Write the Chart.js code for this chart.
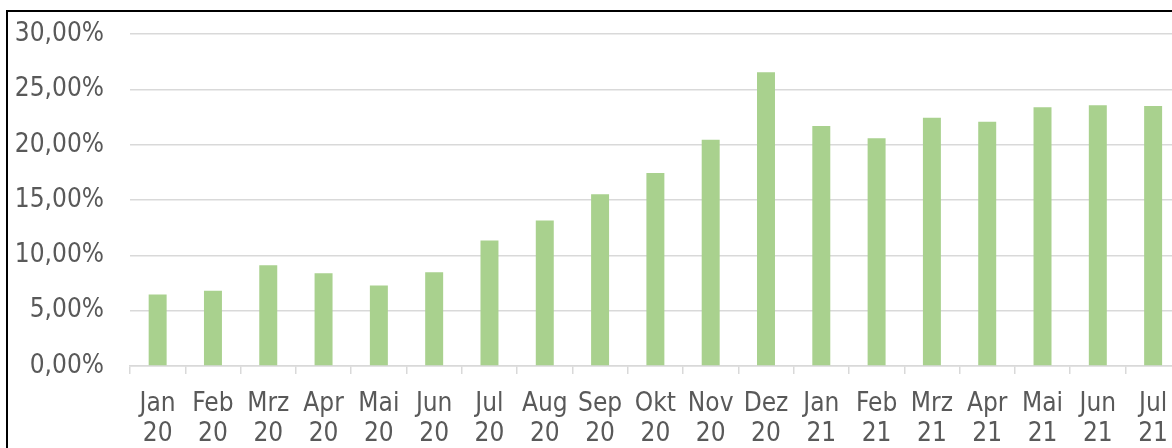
<!DOCTYPE html>
<html>
<head>
<meta charset="utf-8">
<script src="https://cdn.jsdelivr.net/npm/chart.js@4/dist/chart.umd.min.js"></script>
<style>
    html, body {
        margin: 0;
        padding: 0;
        background: #ffffff;
        overflow: hidden;
        width: 1172px;
        height: 448px;
    }
    .chart-box {
        position: absolute;
        left: 6px;
        top: 10px;
        border: 2px solid #000000;
        width: 1190px;
        height: 460px;
        background: #ffffff;
    }
    /* canvas is pulled up a bit so the plot area starts right under the frame */
    .chart-wrap {
        position: absolute;
        left: 0;
        top: -19px;
        width: 1175px;
        height: 459px;
    }
</style>
</head>
<body>
<div class="chart-box">
    <div class="chart-wrap"><canvas id="shareChart"></canvas></div>
</div>
<script>
const months = ['Jan', 'Feb', 'Mrz', 'Apr', 'Mai', 'Jun', 'Jul', 'Aug', 'Sep', 'Okt', 'Nov', 'Dez',
    'Jan', 'Feb', 'Mrz', 'Apr', 'Mai', 'Jun', 'Jul'];
const years = ['20', '20', '20', '20', '20', '20', '20', '20', '20', '20', '20', '20',
    '21', '21', '21', '21', '21', '21', '21'];
const shares = [6.47, 6.80, 9.12, 8.39, 7.28, 8.48, 11.34, 13.15, 15.52, 17.45, 20.46, 26.56,
    21.69, 20.60, 22.44, 22.08, 23.40, 23.58, 23.50];
const yTicks = [0, 5, 10, 15, 20, 25, 30];

const labelFont = { family: '"DejaVu Sans Condensed", "DejaVu Sans", sans-serif', size: 26, lineHeight: 1.17 };
const textColor = '#595959';
const gridColor = '#d9d9d9';

const labels = months.map((m, i) => [m, years[i]]);

new Chart(document.getElementById('shareChart'), {
    type: 'bar',
    data: {
        labels: labels,
        datasets: [{
            data: shares,
            backgroundColor: '#a9d18e',
            borderWidth: 0,
            categoryPercentage: 1,
            barPercentage: 0.325
        }]
    },
    options: {
        responsive: true,
        maintainAspectRatio: false,
        animation: false,
        layout: { padding: { left: 0, right: 0, top: 2, bottom: 0 } },
        plugins: {
            legend: { display: false },
            tooltip: { enabled: false }
        },
        scales: {
            x: {
                grid: {
                    offset: true,
                    drawOnChartArea: false,
                    drawTicks: true,
                    tickLength: 8,
                    color: gridColor,
                    lineWidth: 1.5
                },
                border: { display: true, color: gridColor, width: 1.5 },
                ticks: {
                    color: textColor,
                    font: labelFont,
                    padding: 15,
                    maxRotation: 0,
                    autoSkip: false
                },
                afterFit: function (scale) {
                    scale.height = 86;
                }
            },
            y: {
                min: 0,
                max: 30,
                afterBuildTicks: function (scale) {
                    scale.ticks = yTicks.map(v => ({ value: v }));
                },
                grid: {
                    drawTicks: false,
                    color: gridColor,
                    lineWidth: 1.5
                },
                border: { display: false },
                ticks: {
                    color: textColor,
                    font: labelFont,
                    padding: 26,
                    callback: function (value) {
                        return value.toFixed(2).replace('.', ',') + '%';
                    }
                },
                afterFit: function (scale) {
                    scale.width = 122;
                }
            }
        }
    }
});
</script>
</body>
</html>
